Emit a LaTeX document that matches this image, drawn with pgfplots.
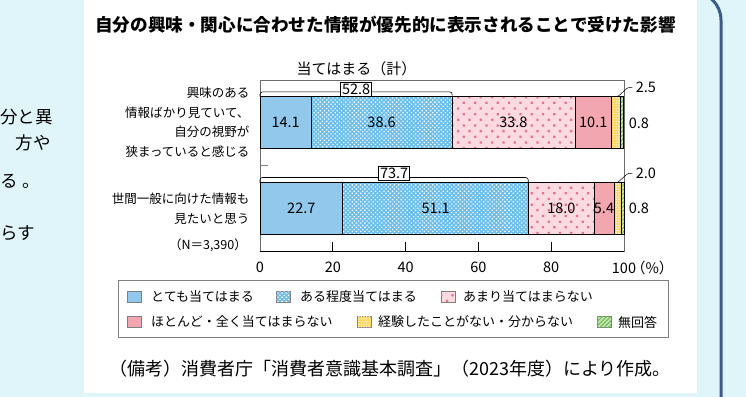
\documentclass[border=0pt]{standalone}
\usepackage{fontspec}
\setmainfont{Noto Sans CJK JP}
\usepackage{pgfplots}
\pgfplotsset{compat=1.18}
\usetikzlibrary{patterns.meta}

\definecolor{bgc}{RGB}{223,245,249}
\definecolor{frameblue}{RGB}{60,90,140}
\definecolor{cS}{RGB}{145,200,236}
\definecolor{cA}{RGB}{108,190,238}
\definecolor{cPk}{RGB}{251,218,226}
\definecolor{cPkDot}{RGB}{228,116,146}
\definecolor{cPs}{RGB}{242,166,176}
\definecolor{cY}{RGB}{252,214,96}
\definecolor{cYdot}{RGB}{255,248,214}
\definecolor{cG}{RGB}{196,232,176}
\definecolor{cGl}{RGB}{112,182,92}

\newcommand{\numfont}{\fontsize{14.5bp}{16bp}\selectfont}
\newcommand{\labfont}{\fontsize{12.5bp}{19.4bp}\selectfont}
\newcommand{\legfont}{\fontsize{13bp}{15bp}\selectfont}

\tikzset{
 pA/.style={pattern color=white, pattern={Dots[distance=3bp, radius=0.9bp, angle=45]}},
 pP/.style={pattern color=cPkDot, pattern={Dots[distance=8bp, radius=1.6bp, angle=45]}},
 pY/.style={pattern color=cYdot, pattern={Dots[distance=2.6bp, radius=0.8bp]}},
 pG/.style={pattern color=cGl, pattern={Lines[angle=45, distance=3bp, line width=1bp]}},
 sS/.style={fill=cS},
 sA/.style={fill=cA, postaction={pA}},
 sP/.style={fill=cPk, postaction={pP}},
 sQ/.style={fill=cPs},
 sY/.style={fill=cY, postaction={pY}},
 sG/.style={fill=cG, postaction={pG}},
}

\begin{document}
\begin{tikzpicture}
\useasboundingbox (0,0) rectangle (746bp,397bp);
\clip (0,0) rectangle (746bp,397bp);
\begin{scope}[x=1bp, y=1bp]
\fill[bgc] (0,0) rectangle (746,397);
\fill[white] (84,4) rectangle (697,400);
\draw[frameblue, line width=3bp, rounded corners=28bp] (560,405) -- (721,405) -- (721,-10);

% left cut-off text
\node[anchor=west, inner sep=0, font=\fontsize{17.5bp}{20bp}\selectfont] at (0,280) {分と異};
\node[anchor=east, inner sep=0, font=\fontsize{17.5bp}{20bp}\selectfont] at (51,254) {方や};
\node[anchor=west, inner sep=0, font=\fontsize{17.5bp}{20bp}\selectfont] at (0,216) {る\hspace{5bp}。};
\node[anchor=west, inner sep=0, font=\fontsize{17.5bp}{20bp}\selectfont] at (0,164) {らす};

% title
\node[font=\fontsize{17.6bp}{20bp}\selectfont\bfseries, inner sep=0] at (385.5,372) {自分の興味・関心に合わせた情報が優先的に表示されることで受けた影響};
\node[font=\fontsize{15bp}{17bp}\selectfont, inner sep=0] at (356.5,328) {当てはまる（計）};

% legend
\draw[gray, line width=0.6bp] (118,60) rectangle (668,117);
\path[sS, draw=gray] (127,94.5) rectangle (141,105.5);
\path[sA, draw=gray] (276,94.5) rectangle (290,105.5);
\path[sP, draw=gray] (441,94.5) rectangle (455,105.5);
\path[sQ, draw=gray] (127,69.5) rectangle (141,80.5);
\path[sY, draw=gray] (357,69.5) rectangle (371,80.5);
\path[sG, draw=gray] (597,69.5) rectangle (611,80.5);
\node[anchor=west, inner sep=0, font=\legfont] at (151,100) {とても当てはまる};
\node[anchor=west, inner sep=0, font=\legfont] at (300,100) {ある程度当てはまる};
\node[anchor=west, inner sep=0, font=\legfont] at (463,100) {あまり当てはまらない};
\node[anchor=west, inner sep=0, font=\legfont] at (151,75) {ほとんど・全く当てはまらない};
\node[anchor=west, inner sep=0, font=\legfont] at (378,75) {経験したことがない・分からない};
\node[anchor=west, inner sep=0, font=\legfont] at (618,75) {無回答};

% footer
\node[inner sep=0, font=\fontsize{18bp}{20bp}\selectfont] at (390,28) {（備考）消費者庁「消費者意識基本調査」（2023年度）により作成。};
\end{scope}

% axis 1: coloured bars, frame, ticks
\begin{axis}[
 at={(260bp,146bp)}, anchor=south west,
 scale only axis, width=364bp, height=171bp,
 xmin=0, xmax=100, ymin=-0.49, ymax=1.49,
 xbar stacked, bar width=52bp,
 axis line style={draw=gray!85!black, line width=0.6bp},
 xtick={0,20,40,60,80,100},
 xticklabels={0,20,40,60,80,{100\rlap{\hspace{-5bp}（\%）}}},
 xtick pos=left,
 tick align=inside,
 xtick style={black, line width=0.7bp},
 major tick length=9bp,
 ytick={0,1},
 yticklabels={{世間一般に向けた情報も\\見たいと思う},{興味のある\\情報ばかり見ていて、\\自分の視野が\\狭まっていると感じる}},
 ytick style={draw=none},
 ytick pos=left,
 extra y ticks={0.5},
 extra y tick labels={},
 extra y tick style={ytick style={draw=gray, line width=0.6bp}, major tick length=8bp},
 yticklabel style={align=right, font=\labfont, xshift=-7bp},
 xticklabel style={font=\numfont, yshift=-7bp},
 clip=false,
]
\addplot[fill=cS,  draw=black, line width=0.6bp] coordinates {(14.1,1) (22.7,0)};
\addplot[fill=cA,  draw=black, line width=0.6bp] coordinates {(38.6,1) (51.1,0)};
\addplot[fill=cPk, draw=black, line width=0.6bp] coordinates {(33.8,1) (18.0,0)};
\addplot[fill=cPs, draw=black, line width=0.6bp] coordinates {(10.1,1) (5.4,0)};
\addplot[fill=cY,  draw=black, line width=0.6bp] coordinates {(2.5,1) (2.0,0)};
\addplot[fill=cG,  draw=black, line width=0.6bp] coordinates {(0.8,1) (0.8,0)};
\end{axis}

% axis 2: pattern overlay of the same bars
\begin{axis}[
 at={(260bp,146bp)}, anchor=south west,
 scale only axis, width=364bp, height=171bp,
 xmin=0, xmax=100, ymin=-0.49, ymax=1.49,
 xbar stacked, bar width=52bp,
 hide axis, clip=false,
]
\addplot[draw=none, fill=none] coordinates {(14.1,1) (22.7,0)};
\addplot[pA, draw=black, line width=0.6bp] coordinates {(38.6,1) (51.1,0)};
\addplot[pP, draw=black, line width=0.6bp] coordinates {(33.8,1) (18.0,0)};
\addplot[draw=none, fill=none] coordinates {(10.1,1) (5.4,0)};
\addplot[pY, draw=black, line width=0.6bp] coordinates {(2.5,1) (2.0,0)};
\addplot[pG, draw=black, line width=0.6bp] coordinates {(0.8,1) (0.8,0)};
\end{axis}

% axis 3: annotations
\begin{axis}[
 at={(260bp,146bp)}, anchor=south west,
 scale only axis, width=364bp, height=171bp,
 xmin=0, xmax=100, ymin=-0.49, ymax=1.49,
 hide axis, clip=false,
]
\addplot[black, line width=0.8bp] coordinates {(0,-0.49) (100,-0.49)};
\addplot[black, line width=0.7bp] coordinates {(20,-0.49) (20,-0.386)};
\addplot[black, line width=0.7bp] coordinates {(40,-0.49) (40,-0.386)};
\addplot[black, line width=0.7bp] coordinates {(60,-0.49) (60,-0.386)};
\addplot[black, line width=0.7bp] coordinates {(80,-0.49) (80,-0.386)};
\addplot[black, line width=0.6bp, rounded corners=2.5bp] coordinates {(0,1.301) (0,1.352) (52.8,1.352) (52.8,1.301)};
\addplot[black, line width=0.6bp, rounded corners=2.5bp] coordinates {(0,0.301) (0,0.361) (73.7,0.361) (73.7,0.301)};
\addplot[black, line width=0.5bp, rounded corners=1.5bp] coordinates {(98.4,1.301) (101.1,1.405) (102.3,1.405)};
\addplot[black, line width=0.5bp, rounded corners=1.5bp] coordinates {(98.2,0.301) (101.1,0.41) (102.3,0.41)};
\addplot[draw=none, mark=none, nodes near coords, point meta=explicit symbolic,
  every node near coord/.style={anchor=center, font=\numfont, text=black}] table[meta=lab] {
x y lab
7.05 1 14.1
33.4 1 38.6
69.6 1 33.8
91.55 1 10.1
106.0 1.403 2.5
104.1 0.99 0.8
11.35 0 22.7
48.25 0 51.1
82.8 0 18.0
94.5 0 5.4
106.0 0.411 2.0
104.1 0.0 0.8
};
\addplot[draw=none, mark=none, nodes near coords, point meta=explicit symbolic,
  every node near coord/.style={anchor=center, font=\numfont, text=black, draw=black, fill=white, line width=0.6bp, inner sep=1.5bp}] table[meta=lab] {
x y lab
26.4 1.381 52.8
36.85 0.411 73.7
};
\node[anchor=east, font=\labfont, inner sep=0] at (axis cs:0,-0.42) [xshift=-13bp] {（N＝3,390）};
\end{axis}
\end{tikzpicture}
\end{document}
